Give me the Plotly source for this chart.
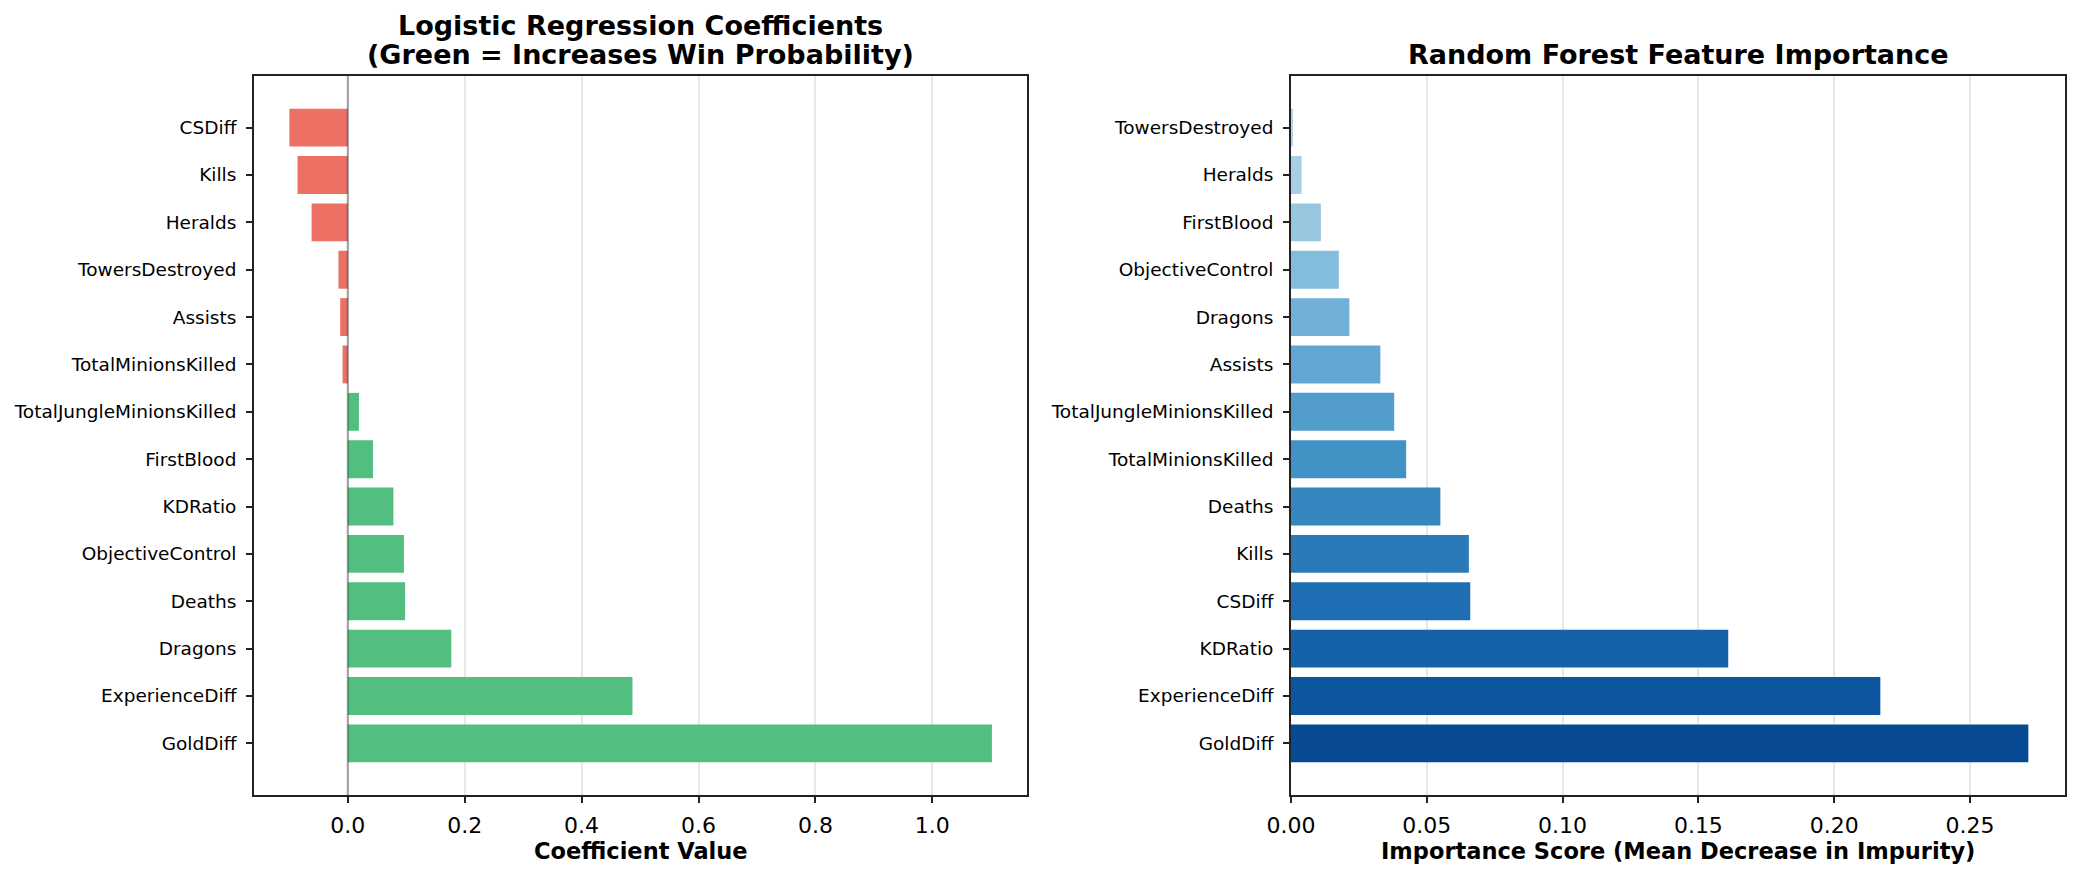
import plotly.graph_objects as go
import plotly.colors as pc
import numpy as np

# ---- Data (bottom to top) ----
lr_features = ["GoldDiff", "ExperienceDiff", "Dragons", "Deaths", "ObjectiveControl",
               "KDRatio", "FirstBlood", "TotalJungleMinionsKilled", "TotalMinionsKilled",
               "Assists", "TowersDestroyed", "Heralds", "Kills", "CSDiff"]
lr_coefs = [1.102, 0.487, 0.177, 0.098, 0.096, 0.078, 0.043, 0.019, -0.009,
            -0.013, -0.016, -0.062, -0.086, -0.100]

rf_features = ["GoldDiff", "ExperienceDiff", "KDRatio", "CSDiff", "Kills", "Deaths",
               "TotalMinionsKilled", "TotalJungleMinionsKilled", "Assists", "Dragons",
               "ObjectiveControl", "FirstBlood", "Heralds", "TowersDestroyed"]
rf_importance = [0.2715, 0.217, 0.161, 0.066, 0.0655, 0.055, 0.0424, 0.038, 0.0329,
                 0.0215, 0.0176, 0.011, 0.0039, 0.0006]

lr_ticks = [0.0, 0.2, 0.4, 0.6, 0.8, 1.0]
rf_ticks = [0.00, 0.05, 0.10, 0.15, 0.20, 0.25]

# ---- Styles ----
GREEN = "#52BE80"
RED = "#EC7063"
lr_colors = [GREEN if v >= 0 else RED for v in lr_coefs]
blues = pc.sample_colorscale(pc.sequential.Blues, list(np.linspace(0.9, 0.3, len(rf_importance))))

FONT = "DejaVu Sans"
W, H = 2079, 879
AX_L = (254, 1027)
AX_R = (1291, 2065)
AX_TOP, AX_BOT = 76, 795

def px2x(p):
    return p / W

def px2y(p):
    return 1 - p / H

fig = go.Figure()
fig.add_trace(go.Bar(x=lr_coefs, y=lr_features, orientation="h",
                     marker=dict(color=lr_colors, line=dict(width=0)),
                     xaxis="x", yaxis="y", showlegend=False))
fig.add_trace(go.Bar(x=rf_importance, y=rf_features, orientation="h",
                     marker=dict(color=blues, line=dict(width=0)),
                     xaxis="x2", yaxis="y2", showlegend=False))

axis_common = dict(showline=True, mirror=True, linecolor="#222222", linewidth=1.8,
                   ticks="outside", ticklen=6, tickwidth=1.6, tickcolor="#222222",
                   zeroline=False, layer="above traces", automargin=False)

fig.update_layout(
    width=W, height=H,
    margin=dict(l=0, r=0, t=0, b=0, pad=0, autoexpand=False),
    paper_bgcolor="white", plot_bgcolor="white",
    bargap=0.2,
    font=dict(family=FONT, color="black"),
    xaxis=dict(domain=[px2x(AX_L[0]), px2x(AX_L[1])], anchor="y",
               range=[-0.1605, 1.162], tickvals=lr_ticks,
               ticktext=[f"{t:.1f}" for t in lr_ticks],
               showgrid=True, gridcolor="rgba(176,176,176,0.3)", gridwidth=1.6,
               tickfont=dict(size=22, family=FONT), ticklabelstandoff=4, **axis_common),
    yaxis=dict(domain=[px2y(AX_BOT), px2y(AX_TOP)], anchor="x",
               type="category", categoryorder="array", categoryarray=lr_features,
               range=[-1.09, 14.09], showgrid=False,
               tickfont=dict(size=18.5, family=FONT), ticklabelstandoff=6, **axis_common),
    xaxis2=dict(domain=[px2x(AX_R[0]), px2x(AX_R[1])], anchor="y2",
                range=[0, 0.285], tickvals=rf_ticks,
                ticktext=[f"{t:.2f}" for t in rf_ticks],
                showgrid=True, gridcolor="rgba(176,176,176,0.3)", gridwidth=1.6,
                tickfont=dict(size=22, family=FONT), ticklabelstandoff=4, **axis_common),
    yaxis2=dict(domain=[px2y(AX_BOT), px2y(AX_TOP)], anchor="x2",
                type="category", categoryorder="array", categoryarray=rf_features,
                range=[-1.09, 14.09], showgrid=False,
                tickfont=dict(size=18.5, family=FONT), ticklabelstandoff=6, **axis_common),
)

# zero reference line on the coefficient chart
fig.add_shape(type="line", xref="x", yref="y domain", x0=0, x1=0, y0=0, y1=1,
              line=dict(color="rgba(0,0,0,0.3)", width=2.2), layer="above")

lc = (AX_L[0] + AX_L[1]) / 2
rc = (AX_R[0] + AX_R[1]) / 2
title_font = dict(family=FONT, size=27, color="black")
label_font = dict(family=FONT, size=22.5, color="black")
annots = [
    (lc, 25, "<b>Logistic Regression Coefficients</b>", title_font),
    (lc, 55, "<b>(Green = Increases Win Probability)</b>", title_font),
    (rc, 55, "<b>Random Forest Feature Importance</b>", title_font),
    (lc, 851, "<b>Coefficient Value</b>", label_font),
    (rc, 851, "<b>Importance Score (Mean Decrease in Impurity)</b>", label_font),
]
for x, y, txt, f in annots:
    fig.add_annotation(x=px2x(x), y=px2y(y), xref="paper", yref="paper",
                       text=txt, showarrow=False, xanchor="center", yanchor="middle",
                       font=f)

fig.write_html("out.html")
